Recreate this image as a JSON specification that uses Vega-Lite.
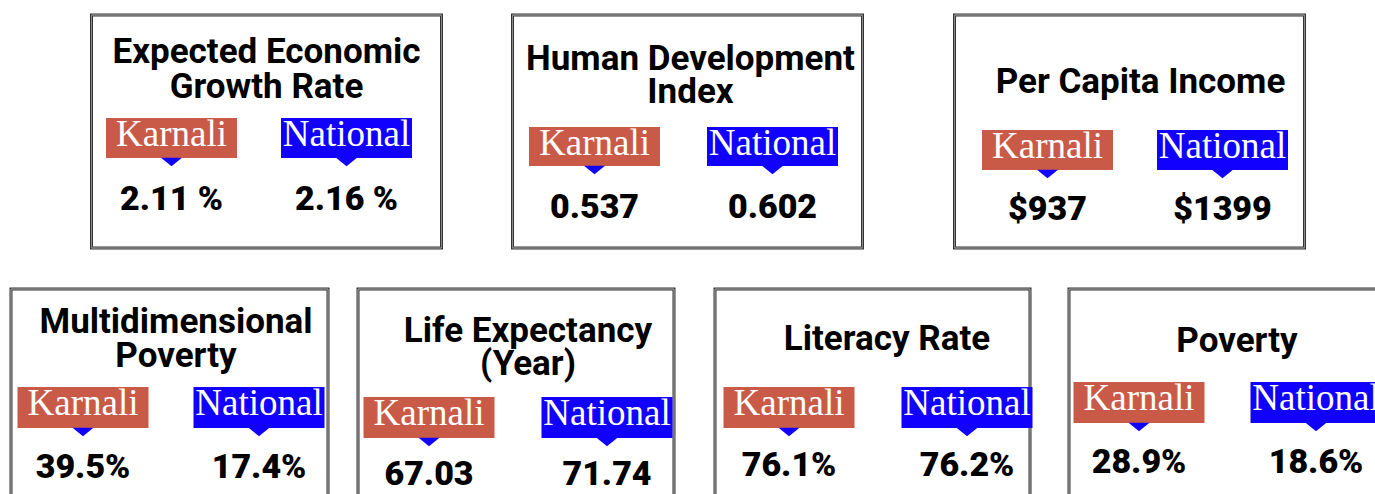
{
  "$schema": "https://vega.github.io/schema/vega-lite/v6.json",
  "padding": {"left": 9, "top": 13, "right": 0, "bottom": 0},
  "background": "white",
  "datasets": {
    "stats": [
      {"indicator": "Expected Economic Growth Rate", "region": "Karnali", "value": "2.11 %"},
      {"indicator": "Expected Economic Growth Rate", "region": "National", "value": "2.16 %"},
      {"indicator": "Human Development Index", "region": "Karnali", "value": "0.537"},
      {"indicator": "Human Development Index", "region": "National", "value": "0.602"},
      {"indicator": "Per Capita Income", "region": "Karnali", "value": "$937"},
      {"indicator": "Per Capita Income", "region": "National", "value": "$1399"},
      {"indicator": "Multidimensional Poverty", "region": "Karnali", "value": "39.5%"},
      {"indicator": "Multidimensional Poverty", "region": "National", "value": "17.4%"},
      {"indicator": "Life Expectancy (Year)", "region": "Karnali", "value": "67.03"},
      {"indicator": "Life Expectancy (Year)", "region": "National", "value": "71.74"},
      {"indicator": "Literacy Rate", "region": "Karnali", "value": "76.1%"},
      {"indicator": "Literacy Rate", "region": "National", "value": "76.2%"},
      {"indicator": "Poverty", "region": "Karnali", "value": "28.9%"},
      {"indicator": "Poverty", "region": "National", "value": "18.6%"}
    ],
    "titles": [
      {"indicator": "Expected Economic Growth Rate", "title": "Expected Economic\nGrowth Rate"},
      {"indicator": "Human Development Index", "title": "Human Development\nIndex"},
      {"indicator": "Per Capita Income", "title": "Per Capita Income"},
      {"indicator": "Multidimensional Poverty", "title": "Multidimensional\nPoverty"},
      {"indicator": "Life Expectancy (Year)", "title": "Life Expectancy\n(Year)"},
      {"indicator": "Literacy Rate", "title": "Literacy Rate"},
      {"indicator": "Poverty", "title": "Poverty"}
    ]
  },
  "config": {
    "view": {"stroke": "#333333", "strokeWidth": 3},
    "text": {"font": "Roboto"}
  },
  "vconcat": [
    {
      "spacing": 88,
      "hconcat": [
        {
          "spacing": 67,
          "hconcat": [
            {
              "width": 350, "height": 233,
              "data": {"name": "stats"},
              "transform": [{"filter": "datum.indicator == 'Expected Economic Growth Rate'"}],
              "encoding": {
                "x": {"field": "region", "type": "nominal", "axis": null, "scale": {"type": "point", "padding": 0, "domain": ["Karnali", "National"], "range": [80, 255]}},
                "color": {"field": "region", "type": "nominal", "legend": null, "scale": {"domain": ["Karnali", "National"], "range": ["#c95a48", "#1200ff"]}}
              },
              "layer": [
                {"mark": {"type": "rect", "fill": null, "stroke": "#8c8c8c", "strokeWidth": 1}, "encoding": {"x": {"value": 0}, "x2": {"value": 350}, "y": {"value": 0}, "y2": {"value": 233}, "color": {"value": null}}},
                {"data": {"name": "titles"}, "transform": [{"filter": "datum.indicator == 'Expected Economic Growth Rate'"}],
                 "mark": {"type": "text", "fontWeight": "bold", "fontSize": 35, "lineBreak": "\n", "lineHeight": 35, "align": "center", "baseline": "alphabetic"},
                 "encoding": {"text": {"field": "title"}, "x": {"value": 175}, "y": {"value": 48}, "color": {"value": "black"}}},
                {"mark": {"type": "rect", "width": 131}, "encoding": {"y": {"value": 103}, "y2": {"value": 143}}},
                {"mark": {"type": "point", "shape": "M-1,-0.4L1,-0.4L0,0.4Z", "filled": true, "size": 441, "opacity": 1}, "encoding": {"y": {"value": 147}, "color": {"value": "#1200ff"}}},
                {"mark": {"type": "text", "font": "Liberation Serif", "fontSize": 37, "align": "center", "baseline": "alphabetic"}, "encoding": {"text": {"field": "region"}, "y": {"value": 131}, "color": {"value": "white"}}},
                {"mark": {"type": "text", "fontWeight": 900, "fontSize": 34, "align": "center", "baseline": "alphabetic"}, "encoding": {"text": {"field": "value"}, "y": {"value": 195}, "color": {"value": "black"}}}
              ]
            },
            {
              "width": 350, "height": 233,
              "data": {"name": "stats"},
              "transform": [{"filter": "datum.indicator == 'Human Development Index'"}],
              "encoding": {
                "x": {"field": "region", "type": "nominal", "axis": null, "scale": {"type": "point", "padding": 0, "domain": ["Karnali", "National"], "range": [82, 260]}},
                "color": {"field": "region", "type": "nominal", "legend": null, "scale": {"domain": ["Karnali", "National"], "range": ["#c95a48", "#1200ff"]}}
              },
              "layer": [
                {"mark": {"type": "rect", "fill": null, "stroke": "#8c8c8c", "strokeWidth": 1}, "encoding": {"x": {"value": 0}, "x2": {"value": 350}, "y": {"value": 0}, "y2": {"value": 233}, "color": {"value": null}}},
                {"data": {"name": "titles"}, "transform": [{"filter": "datum.indicator == 'Human Development Index'"}],
                 "mark": {"type": "text", "fontWeight": "bold", "fontSize": 35, "lineBreak": "\n", "lineHeight": 33, "align": "center", "baseline": "alphabetic"},
                 "encoding": {"text": {"field": "title"}, "x": {"value": 178}, "y": {"value": 55}, "color": {"value": "black"}}},
                {"mark": {"type": "rect", "width": 131}, "encoding": {"y": {"value": 112}, "y2": {"value": 151}}},
                {"mark": {"type": "point", "shape": "M-1,-0.4L1,-0.4L0,0.4Z", "filled": true, "size": 441, "opacity": 1}, "encoding": {"y": {"value": 155}, "color": {"value": "#1200ff"}}},
                {"mark": {"type": "text", "font": "Liberation Serif", "fontSize": 37, "align": "center", "baseline": "alphabetic"}, "encoding": {"text": {"field": "region"}, "y": {"value": 140}, "color": {"value": "white"}}},
                {"mark": {"type": "text", "fontWeight": 900, "fontSize": 34, "align": "center", "baseline": "alphabetic"}, "encoding": {"text": {"field": "value"}, "y": {"value": 203}, "color": {"value": "black"}}}
              ]
            }
          ]
        },
        {
          "width": 350, "height": 233,
          "data": {"name": "stats"},
          "transform": [{"filter": "datum.indicator == 'Per Capita Income'"}],
          "encoding": {
            "x": {"field": "region", "type": "nominal", "axis": null, "scale": {"type": "point", "padding": 0, "domain": ["Karnali", "National"], "range": [93, 268]}},
            "color": {"field": "region", "type": "nominal", "legend": null, "scale": {"domain": ["Karnali", "National"], "range": ["#c95a48", "#1200ff"]}}
          },
          "layer": [
            {"mark": {"type": "rect", "fill": null, "stroke": "#8c8c8c", "strokeWidth": 1}, "encoding": {"x": {"value": 0}, "x2": {"value": 350}, "y": {"value": 0}, "y2": {"value": 233}, "color": {"value": null}}},
            {"data": {"name": "titles"}, "transform": [{"filter": "datum.indicator == 'Per Capita Income'"}],
             "mark": {"type": "text", "fontWeight": "bold", "fontSize": 35, "lineBreak": "\n", "lineHeight": 35, "align": "center", "baseline": "alphabetic"},
             "encoding": {"text": {"field": "title"}, "x": {"value": 186}, "y": {"value": 78}, "color": {"value": "black"}}},
            {"mark": {"type": "rect", "width": 131}, "encoding": {"y": {"value": 115}, "y2": {"value": 155}}},
            {"mark": {"type": "point", "shape": "M-1,-0.4L1,-0.4L0,0.4Z", "filled": true, "size": 441, "opacity": 1}, "encoding": {"y": {"value": 159}, "color": {"value": "#1200ff"}}},
            {"mark": {"type": "text", "font": "Liberation Serif", "fontSize": 37, "align": "center", "baseline": "alphabetic"}, "encoding": {"text": {"field": "region"}, "y": {"value": 143}, "color": {"value": "white"}}},
            {"mark": {"type": "text", "fontWeight": 900, "fontSize": 34, "align": "center", "baseline": "alphabetic"}, "encoding": {"text": {"field": "value"}, "y": {"value": 205}, "color": {"value": "black"}}}
          ]
        }
      ]
    },
    {
      "spacing": 33,
      "hconcat": [
        {
          "spacing": 37,
          "hconcat": [
            {
              "spacing": 26,
              "hconcat": [
                {
                  "width": 317, "height": 233,
                  "data": {"name": "stats"},
                  "transform": [{"filter": "datum.indicator == 'Multidimensional Poverty'"}],
                  "encoding": {
                    "x": {"field": "region", "type": "nominal", "axis": null, "scale": {"type": "point", "padding": 0, "domain": ["Karnali", "National"], "range": [72, 248]}},
                    "color": {"field": "region", "type": "nominal", "legend": null, "scale": {"domain": ["Karnali", "National"], "range": ["#c95a48", "#1200ff"]}}
                  },
                  "layer": [
                    {"mark": {"type": "rect", "fill": null, "stroke": "#8c8c8c", "strokeWidth": 1}, "encoding": {"x": {"value": 0}, "x2": {"value": 317}, "y": {"value": 0}, "y2": {"value": 233}, "color": {"value": null}}},
                    {"data": {"name": "titles"}, "transform": [{"filter": "datum.indicator == 'Multidimensional Poverty'"}],
                     "mark": {"type": "text", "fontWeight": "bold", "fontSize": 35, "lineBreak": "\n", "lineHeight": 34, "align": "center", "baseline": "alphabetic"},
                     "encoding": {"text": {"field": "title"}, "x": {"value": 165}, "y": {"value": 44}, "color": {"value": "black"}}},
                    {"mark": {"type": "rect", "width": 131}, "encoding": {"y": {"value": 98}, "y2": {"value": 139}}},
                    {"mark": {"type": "point", "shape": "M-1,-0.4L1,-0.4L0,0.4Z", "filled": true, "size": 441, "opacity": 1}, "encoding": {"y": {"value": 143}, "color": {"value": "#1200ff"}}},
                    {"mark": {"type": "text", "font": "Liberation Serif", "fontSize": 37, "align": "center", "baseline": "alphabetic"}, "encoding": {"text": {"field": "region"}, "y": {"value": 126}, "color": {"value": "white"}}},
                    {"mark": {"type": "text", "fontWeight": 900, "fontSize": 34, "align": "center", "baseline": "alphabetic"}, "encoding": {"text": {"field": "value"}, "y": {"value": 189}, "color": {"value": "black"}}}
                  ]
                },
                {
                  "width": 316, "height": 233,
                  "data": {"name": "stats"},
                  "transform": [{"filter": "datum.indicator == 'Life Expectancy (Year)'"}],
                  "encoding": {
                    "x": {"field": "region", "type": "nominal", "axis": null, "scale": {"type": "point", "padding": 0, "domain": ["Karnali", "National"], "range": [71, 249]}},
                    "color": {"field": "region", "type": "nominal", "legend": null, "scale": {"domain": ["Karnali", "National"], "range": ["#c95a48", "#1200ff"]}}
                  },
                  "layer": [
                    {"mark": {"type": "rect", "fill": null, "stroke": "#8c8c8c", "strokeWidth": 1}, "encoding": {"x": {"value": 0}, "x2": {"value": 316}, "y": {"value": 0}, "y2": {"value": 233}, "color": {"value": null}}},
                    {"data": {"name": "titles"}, "transform": [{"filter": "datum.indicator == 'Life Expectancy (Year)'"}],
                     "mark": {"type": "text", "fontWeight": "bold", "fontSize": 35, "lineBreak": "\n", "lineHeight": 33, "align": "center", "baseline": "alphabetic"},
                     "encoding": {"text": {"field": "title"}, "x": {"value": 170}, "y": {"value": 53}, "color": {"value": "black"}}},
                    {"mark": {"type": "rect", "width": 131}, "encoding": {"y": {"value": 108}, "y2": {"value": 149}}},
                    {"mark": {"type": "point", "shape": "M-1,-0.4L1,-0.4L0,0.4Z", "filled": true, "size": 441, "opacity": 1}, "encoding": {"y": {"value": 153}, "color": {"value": "#1200ff"}}},
                    {"mark": {"type": "text", "font": "Liberation Serif", "fontSize": 37, "align": "center", "baseline": "alphabetic"}, "encoding": {"text": {"field": "region"}, "y": {"value": 136}, "color": {"value": "white"}}},
                    {"mark": {"type": "text", "fontWeight": 900, "fontSize": 34, "align": "center", "baseline": "alphabetic"}, "encoding": {"text": {"field": "value"}, "y": {"value": 196}, "color": {"value": "black"}}}
                  ]
                }
              ]
            },
            {
              "width": 315, "height": 233,
              "data": {"name": "stats"},
              "transform": [{"filter": "datum.indicator == 'Literacy Rate'"}],
              "encoding": {
                "x": {"field": "region", "type": "nominal", "axis": null, "scale": {"type": "point", "padding": 0, "domain": ["Karnali", "National"], "range": [74, 252]}},
                "color": {"field": "region", "type": "nominal", "legend": null, "scale": {"domain": ["Karnali", "National"], "range": ["#c95a48", "#1200ff"]}}
              },
              "layer": [
                {"mark": {"type": "rect", "fill": null, "stroke": "#8c8c8c", "strokeWidth": 1}, "encoding": {"x": {"value": 0}, "x2": {"value": 315}, "y": {"value": 0}, "y2": {"value": 233}, "color": {"value": null}}},
                {"data": {"name": "titles"}, "transform": [{"filter": "datum.indicator == 'Literacy Rate'"}],
                 "mark": {"type": "text", "fontWeight": "bold", "fontSize": 35, "lineBreak": "\n", "lineHeight": 35, "align": "center", "baseline": "alphabetic"},
                 "encoding": {"text": {"field": "title"}, "x": {"value": 172}, "y": {"value": 61}, "color": {"value": "black"}}},
                {"mark": {"type": "rect", "width": 131}, "encoding": {"y": {"value": 98}, "y2": {"value": 139}}},
                {"mark": {"type": "point", "shape": "M-1,-0.4L1,-0.4L0,0.4Z", "filled": true, "size": 441, "opacity": 1}, "encoding": {"y": {"value": 143}, "color": {"value": "#1200ff"}}},
                {"mark": {"type": "text", "font": "Liberation Serif", "fontSize": 37, "align": "center", "baseline": "alphabetic"}, "encoding": {"text": {"field": "region"}, "y": {"value": 126}, "color": {"value": "white"}}},
                {"mark": {"type": "text", "fontWeight": 900, "fontSize": 34, "align": "center", "baseline": "alphabetic"}, "encoding": {"text": {"field": "value"}, "y": {"value": 187}, "color": {"value": "black"}}}
              ]
            }
          ]
        },
        {
          "width": 316, "height": 233,
          "data": {"name": "stats"},
          "transform": [{"filter": "datum.indicator == 'Poverty'"}],
          "encoding": {
            "x": {"field": "region", "type": "nominal", "axis": null, "scale": {"type": "point", "padding": 0, "domain": ["Karnali", "National"], "range": [70, 247]}},
            "color": {"field": "region", "type": "nominal", "legend": null, "scale": {"domain": ["Karnali", "National"], "range": ["#c95a48", "#1200ff"]}}
          },
          "layer": [
            {"mark": {"type": "rect", "fill": null, "stroke": "#8c8c8c", "strokeWidth": 1}, "encoding": {"x": {"value": 0}, "x2": {"value": 316}, "y": {"value": 0}, "y2": {"value": 233}, "color": {"value": null}}},
            {"data": {"name": "titles"}, "transform": [{"filter": "datum.indicator == 'Poverty'"}],
             "mark": {"type": "text", "fontWeight": "bold", "fontSize": 35, "lineBreak": "\n", "lineHeight": 35, "align": "center", "baseline": "alphabetic"},
             "encoding": {"text": {"field": "title"}, "x": {"value": 168}, "y": {"value": 63}, "color": {"value": "black"}}},
            {"mark": {"type": "rect", "width": 131}, "encoding": {"y": {"value": 93}, "y2": {"value": 134}}},
            {"mark": {"type": "point", "shape": "M-1,-0.4L1,-0.4L0,0.4Z", "filled": true, "size": 441, "opacity": 1}, "encoding": {"y": {"value": 138}, "color": {"value": "#1200ff"}}},
            {"mark": {"type": "text", "font": "Liberation Serif", "fontSize": 37, "align": "center", "baseline": "alphabetic"}, "encoding": {"text": {"field": "region"}, "y": {"value": 121}, "color": {"value": "white"}}},
            {"mark": {"type": "text", "fontWeight": 900, "fontSize": 34, "align": "center", "baseline": "alphabetic"}, "encoding": {"text": {"field": "value"}, "y": {"value": 184}, "color": {"value": "black"}}}
          ]
        }
      ]
    }
  ],
  "spacing": 37,
  "center": true
}
